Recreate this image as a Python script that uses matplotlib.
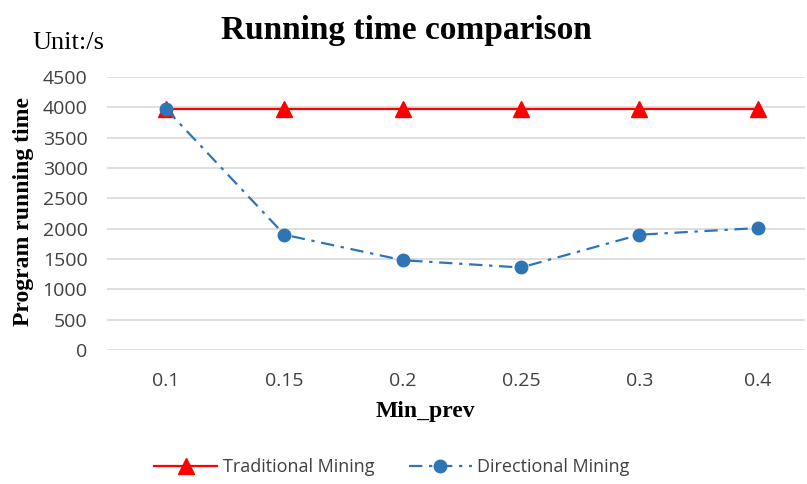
import matplotlib
matplotlib.use("Agg")
import matplotlib.pyplot as plt

categories = ["0.1", "0.15", "0.2", "0.25", "0.3", "0.4"]
traditional = [3970, 3970, 3970, 3970, 3970, 3970]
directional = [3970, 1900, 1480, 1360, 1900, 2010]
yticks = [0, 500, 1000, 1500, 2000, 2500, 3000, 3500, 4000, 4500]

W, H = 807, 484
fig = plt.figure(figsize=(W / 100, H / 100), dpi=100)
fig.patch.set_facecolor("white")
ax = fig.add_axes([107 / W, 1 - 350 / H, 698 / W, 273 / H])

x = list(range(len(categories)))
ax.plot(x, traditional, color="#ff0000", lw=1.6, marker="^", ms=12,
        label="Traditional Mining", zorder=3)
ax.plot(x, directional, color="#2e75b6", lw=1.6, ls=(0, (6, 3, 1.5, 3)),
        marker="o", ms=9, label="Directional Mining", zorder=4)

ax.set_xlim(-0.5, 5.4)
ax.set_ylim(0, 4500)
ax.set_yticks(yticks)
ax.set_xticks(x)
ax.set_xticklabels(categories)
ax.tick_params(length=0, labelsize=14, labelcolor="#404040")
ax.tick_params(axis="y", pad=14)
ax.tick_params(axis="x", pad=16)
for lab in ax.get_xticklabels() + ax.get_yticklabels():
    lab.set_family("Open Sans")
ax.grid(axis="y", color="#d9d9d9", lw=1.2)
ax.set_axisbelow(True)
for s in ax.spines.values():
    s.set_visible(False)

serif = "Liberation Serif"
fig.text(406 / W, 1 - 30 / H, "Running time comparison", ha="center", va="center",
         fontsize=24, fontweight="bold", family=serif)
fig.text(32 / W, 1 - 43 / H, "Unit:/s", ha="left", va="center",
         fontsize=19, family=serif)
fig.text(24 / W, 1 - 212 / H, "Program running time", ha="center", va="center",
         rotation=90, fontsize=17, fontweight="bold", family=serif)
fig.text(425 / W, 1 - 412 / H, "Min_prev", ha="center", va="center",
         fontsize=17, fontweight="bold", family=serif)

leg = fig.legend(loc="center", bbox_to_anchor=(392 / W, 1 - 467 / H), ncol=2,
                 frameon=False, handlelength=3.5, handletextpad=0.3,
                 columnspacing=1.9, prop={"family": "Open Sans", "size": 13})
for t in leg.get_texts():
    t.set_color("#404040")

fig.savefig("out.png", dpi=100)
